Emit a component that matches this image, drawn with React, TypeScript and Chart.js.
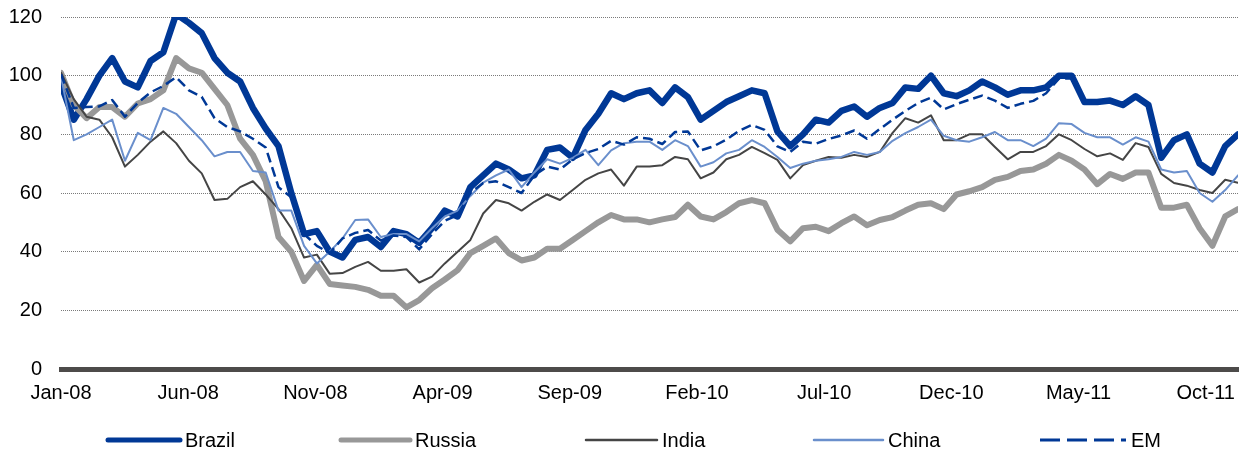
import React, { useEffect, useRef } from "react";
import { Chart, registerables } from "chart.js";

Chart.register(...registerables);

const tickLabels = ["Jan-08", "Jun-08", "Nov-08", "Apr-09", "Sep-09", "Feb-10", "Jul-10", "Dec-10", "May-11", "Oct-11"];
const tickMonths = [0, 5, 10, 15, 20, 25, 30, 35, 40, 45];
const monthsSpan = 46.27;

const brazil = [
  97, 85, 92, 100, 106, 98, 96, 105, 108, 121,
  118, 114.5, 106, 101, 98, 89, 82, 76, 60, 46,
  47, 40, 38, 44, 45, 41.6, 47, 46, 43, 48,
  54, 52, 62, 66, 70, 68, 65, 66, 74.7, 75.5,
  72, 81.5, 87, 94, 92, 94, 95, 90.7, 96, 92.7,
  85, 88, 91, 93, 95, 94, 81, 76, 80, 85,
  84, 88, 89.5, 86, 89, 90.7, 96, 95.5, 100, 94,
  93, 95, 98, 96, 93.5, 95, 95, 96, 100, 100,
  91, 91, 91.5, 90, 93, 90, 72, 78, 80, 70,
  67, 76, 80,
];

const russia = [
  101, 90, 85.5, 89.3, 89.3, 86, 90.5, 92, 95, 106,
  102.5, 101, 95.5, 90, 78.5, 73, 64, 45, 40, 30,
  35.5, 29, 28.5, 28, 27, 25, 25, 21, 23.5, 27.5,
  30.5, 33.7, 39.5, 42, 44.5, 39.5, 37, 38, 41, 41,
  44, 47, 50, 52.5, 51, 51, 50, 51, 51.8, 56,
  52, 51, 53.5, 56.5, 57.6, 56.5, 47.5, 43.5, 48, 48.5,
  47, 49.7, 52, 49, 50.8, 51.8, 54, 56, 56.5, 54.5,
  59.5, 60.6, 62, 64.5, 65.5, 67.5, 68, 70, 73, 71,
  68, 63, 66.5, 64.8, 67, 67, 55, 55, 56, 48,
  42, 52, 54.5,
];

const india = [
  101, 92, 86, 85, 79, 69, 73, 77.5, 81, 77,
  71, 66.7, 57.6, 58, 62, 64, 59.5, 54.5, 48, 38,
  39, 32.5, 32.7, 34.8, 36.5, 33.5, 33.5, 34, 29.5, 31.5,
  36, 40, 44, 53, 57.6, 56.5, 54, 57, 59.5, 57.6,
  61, 64.5, 66.7, 68, 62.5, 69, 69, 69.5, 72.3, 71.5,
  65, 67, 71.5, 73, 75.7, 73.6, 71.3, 65, 69.5, 71,
  72.3, 72, 73, 72.3, 74, 80.5, 85.5, 84, 86.5, 78,
  78, 80, 80, 75.7, 71.5, 74, 74, 76, 80, 78,
  75, 72.5, 73.5, 71.3, 77, 75.7, 66.5, 63.4, 62.5, 61,
  60, 64.5, 63.5,
];

const china = [
  99.7, 78, 80, 82.5, 85, 71, 80.5, 78, 89, 87,
  82.5, 78, 72.5, 74, 74, 67.5, 67, 54, 54, 42,
  36, 40, 44.5, 50.8, 51, 45, 46, 46, 43.5, 48,
  52, 54, 59, 63.5, 66, 68, 62, 67, 71.5, 70,
  72, 74.7, 69.5, 74.5, 77, 77.5, 77.5, 74.7, 78, 76,
  69, 70.5, 73.5, 74.7, 78, 75.7, 72.3, 68.5, 70, 71,
  71.5, 72.3, 74, 73, 74, 77.8, 80.4, 82.5, 85, 79.5,
  78, 77.5, 79, 80.8, 78, 78, 76, 78.5, 83.8, 83.5,
  80.5, 79, 79, 76.5, 79, 77.5, 68, 67, 67.5, 60,
  57, 61, 66,
];

const em = [
  100.5, 89, 89.3, 89.5, 91.7, 86, 90.7, 94.3, 96.5, 99.5,
  95, 92.8, 85.5, 82.5, 81, 78.5, 75.5, 62, 58.5, 46,
  42, 39.5, 44.5, 46.4, 47.4, 43.8, 45.5, 45, 40.8, 46,
  50.5, 52.5, 60, 63.4, 64, 62, 60, 66, 69, 68,
  71.5, 73.6, 75, 77.8, 76.5, 79, 78.5, 76.7, 80.8, 81,
  74.5, 75.9, 78.2, 81.2, 83.2, 81.5, 75.9, 74, 77.5, 76.8,
  78.4, 79.6, 81.3, 78.5, 81.8, 85, 88, 90.7, 92.5, 88.5,
  90.3, 91.8, 93.2, 91.5, 89, 90.4, 91.4, 94, 99, 99,
  91, 91, 91.5, 90, 92.5, 90, 72, 78, 80, 70,
  67, 76, 80,
];

const seriesNames = ["Brazil", "Russia", "India", "China", "EM"];

const FONT = '"Liberation Sans", Arial, Helvetica, sans-serif';
const BLUE = "#003896";
const GRAY = "#989898";
const DARK = "#454545";
const LIGHT = "#6A8FCC";

export default function App() {
  const ref = useRef<HTMLCanvasElement>(null);

  useEffect(() => {
    document.body.style.margin = "0";
    const n = brazil.length;
    const step = monthsSpan / (n - 1);
    const toPts = (arr: number[]) => arr.map((v, i) => ({ x: i * step, y: v }));

    const styles = [
      { color: BLUE, width: 6.5, dash: [] as number[], legendWidth: 5, legendDash: [] as number[] },
      { color: GRAY, width: 6, dash: [], legendWidth: 5, legendDash: [] },
      { color: DARK, width: 2, dash: [], legendWidth: 2.5, legendDash: [] },
      { color: LIGHT, width: 2, dash: [], legendWidth: 2.5, legendDash: [] },
      { color: BLUE, width: 2.5, dash: [10, 5], legendWidth: 3, legendDash: [20, 7] },
    ];
    const values = [brazil, russia, india, china, em];
    const legendX = [108, 341, 586, 814, 1040];
    const legendLen = [72, 69, 71, 69, 86];

    const legendPlugin = {
      id: "customLegend",
      afterDraw(chart: any) {
        const ctx = chart.ctx as CanvasRenderingContext2D;
        const y = 440;
        ctx.save();
        seriesNames.forEach((name, i) => {
          const s = styles[i];
          ctx.beginPath();
          ctx.strokeStyle = s.color;
          ctx.lineWidth = s.legendWidth;
          ctx.lineCap = s.legendDash.length ? "butt" : "round";
          ctx.setLineDash(s.legendDash);
          ctx.moveTo(legendX[i], y);
          ctx.lineTo(legendX[i] + legendLen[i], y);
          ctx.stroke();
          ctx.setLineDash([]);
          ctx.fillStyle = "#000";
          ctx.font = `20px ${FONT}`;
          ctx.textBaseline = "middle";
          ctx.textAlign = "left";
          ctx.fillText(name, legendX[i] + legendLen[i] + 5, y + 1);
        });
        ctx.restore();
      },
    };

    const chart = new Chart(ref.current as HTMLCanvasElement, {
      type: "line",
      data: {
        datasets: seriesNames.map((name, i) => ({
          label: name,
          data: toPts(values[i]),
          borderColor: styles[i].color,
          backgroundColor: styles[i].color,
          borderWidth: styles[i].width,
          borderDash: styles[i].dash,
          borderJoinStyle: "round" as const,
          borderCapStyle: (styles[i].dash.length ? "butt" : "round") as any,
          pointRadius: 0,
          tension: 0,
          fill: false,
          order: 5 - i,
        })),
      },
      options: {
        responsive: false,
        animation: false,
        devicePixelRatio: 1,
        layout: { padding: { left: 0, right: 11, top: 17, bottom: 0 } },
        plugins: { legend: { display: false }, tooltip: { enabled: false } },
        scales: {
          x: {
            type: "linear",
            min: 0,
            max: monthsSpan,
            afterBuildTicks: (s: any) => {
              s.ticks = tickMonths.map((v) => ({ value: v }));
            },
            afterFit: (s: any) => {
              s.height = 83;
              s.paddingLeft = 0;
              s.paddingRight = 0;
            },
            ticks: {
              autoSkip: false,
              maxRotation: 0,
              padding: 12,
              color: "#000",
              font: { family: FONT, size: 20 },
              callback: (v: any) => tickLabels[tickMonths.indexOf(Number(v))] ?? "",
            },
            grid: { display: false, drawTicks: false },
            border: { display: true, color: "#4D4B4A", width: 5 },
          },
          y: {
            min: 0,
            max: 120,
            afterFit: (s: any) => {
              s.width = 61;
              s.paddingTop = 0;
              s.paddingBottom = 0;
            },
            ticks: {
              stepSize: 20,
              padding: 19,
              color: "#000",
              font: { family: FONT, size: 20 },
            },
            grid: {
              drawTicks: false,
              lineWidth: 1,
              color: (c: any) => (c.tick && c.tick.value === 0 ? "rgba(0,0,0,0)" : "#7A7A7A"),
            },
            border: { display: false, dash: [1, 1] },
          },
        },
      },
      plugins: [legendPlugin],
    });
    return () => chart.destroy();
  }, []);

  return (
    <canvas
      ref={ref}
      width={1249}
      height={452}
      style={{ display: "block", width: "1249px", height: "452px" }}
    />
  );
}
